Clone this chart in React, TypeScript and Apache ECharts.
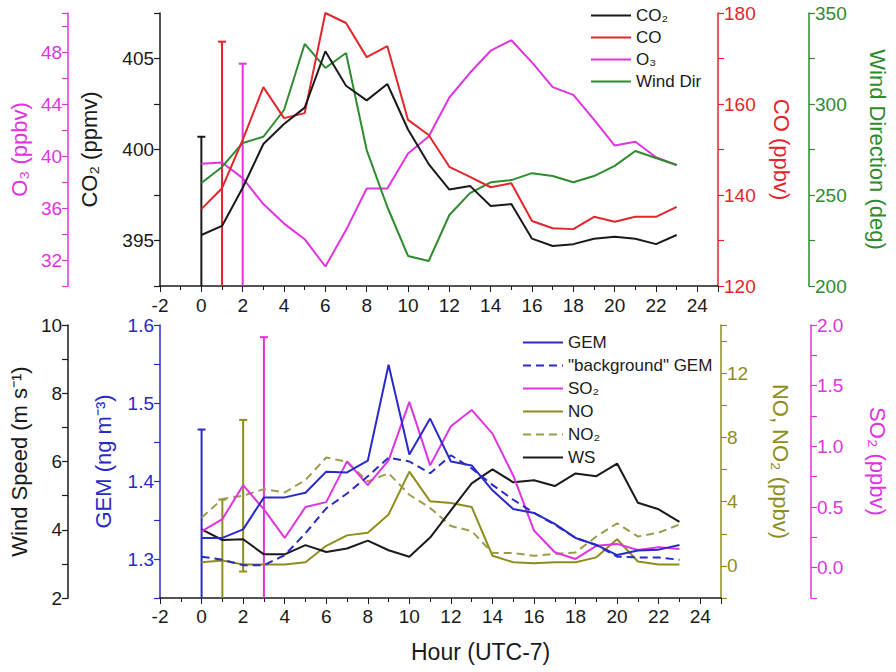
import React, { useEffect, useRef } from "react";
import * as echarts from "echarts";

const hours = [0, 1, 2, 3, 4, 5, 6, 7, 8, 9, 10, 11, 12, 13, 14, 15, 16, 17, 18, 19, 20, 21, 22, 23];
const xTicks = [-2, 0, 2, 4, 6, 8, 10, 12, 14, 16, 18, 20, 22, 24];

// top panel
const co2 = [395.3, 395.8, 397.9, 400.3, 401.4, 402.3, 405.4, 403.5, 402.7, 403.6, 401.1, 399.2, 397.8, 398.0, 396.9, 397.0, 395.1, 394.7, 394.8, 395.1, 395.2, 395.1, 394.8, 395.3];
const co = [136.9, 141.5, 152.1, 163.7, 156.9, 158.0, 180.0, 177.8, 170.3, 172.7, 156.5, 153.2, 146.2, 144.0, 141.7, 142.6, 134.3, 132.7, 132.5, 135.2, 134.1, 135.2, 135.2, 137.4];
const o3 = [39.4, 39.5, 38.3, 36.3, 34.8, 33.6, 31.5, 34.3, 37.5, 37.5, 40.2, 41.5, 44.5, 46.4, 48.1, 48.9, 47.2, 45.3, 44.7, 42.8, 40.8, 41.1, 39.9, 39.3];
const windDir = [256.6, 265.4, 278.6, 282.0, 296.7, 333.0, 319.8, 328.0, 274.7, 243.4, 216.5, 213.7, 239.0, 251.0, 257.0, 258.2, 262.0, 260.4, 257.0, 260.4, 266.0, 274.2, 270.3, 266.5];

// bottom panel
const gem = [1.327, 1.327, 1.338, 1.379, 1.379, 1.385, 1.412, 1.411, 1.426, 1.549, 1.434, 1.48, 1.425, 1.42, 1.388, 1.364, 1.359, 1.345, 1.327, 1.318, 1.305, 1.311, 1.312, 1.318];
const bgGem = [1.303, 1.299, 1.292, 1.292, 1.305, 1.333, 1.365, 1.384, 1.406, 1.43, 1.425, 1.41, 1.433, 1.416, 1.395, 1.376, 1.359, 1.344, 1.327, 1.318, 1.303, 1.302, 1.302, 1.299];
const so2 = [0.3, 0.4, 0.68, 0.48, 0.245, 0.5, 0.54, 0.876, 0.68, 0.884, 1.366, 0.843, 1.165, 1.3, 1.105, 0.76, 0.306, 0.127, 0.072, 0.18, 0.196, 0.146, 0.168, 0.154];
const no = [0.23, 0.33, 0.08, 0.08, 0.08, 0.23, 1.25, 1.9, 2.07, 3.2, 5.87, 4.02, 3.92, 3.67, 0.63, 0.23, 0.16, 0.23, 0.23, 0.53, 1.66, 0.27, 0.08, 0.08];
const no2 = [3.0, 4.17, 4.37, 4.78, 4.57, 5.35, 6.75, 6.48, 5.25, 5.77, 4.43, 3.61, 2.48, 2.17, 0.8, 0.8, 0.63, 0.74, 0.84, 1.83, 2.65, 1.83, 2.07, 2.58];
const ws = [4.01, 3.7, 3.72, 3.28, 3.28, 3.55, 3.35, 3.45, 3.68, 3.4, 3.21, 3.77, 4.57, 5.36, 5.77, 5.39, 5.45, 5.28, 5.65, 5.57, 5.94, 4.79, 4.6, 4.23];

// error bars: [hour, centre, half-width]
const co2Err = [0, 395.3, 5.4];
const coErr = [1, 141.5, 32.2];
const o3Err = [2, 38.3, 8.8];
const gemErr = [0, 1.327, 0.139];
const noErr = [1, 0.33, 3.8];
const no2Err = [2, 4.37, 4.72];
const so2Err = [3, 0.48, 1.42];

const FONT = "Liberation Sans, Arial, Helvetica, sans-serif";
const BLACK = "#1a1a1a";
const RED = "#e3262c";
const MAGENTA = "#e034e0";
const GREEN = "#2e8b2e";
const BLUE = "#2a2ac8";
const OLIVE = "#8e8e1e";
const OLIVE2 = "#9c9c4a";

const pair = (arr: number[]) => hours.map((h, i) => [h, arr[i]]);

function yAxis(opts: any) {
  const { color, grid, pos, offset, min, max, interval, fmt, name, gap } = opts;
  return {
    type: "value",
    gridIndex: grid,
    position: pos,
    offset,
    min,
    max,
    interval,
    name,
    nameLocation: "middle",
    nameRotate: pos === "left" ? 90 : -90,
    nameGap: gap,
    nameTextStyle: { color, fontSize: 22, fontFamily: FONT },
    axisLine: { show: true, onZero: false, lineStyle: { color, width: 1.5 } },
    axisTick: { show: true, length: 6, lineStyle: { color, width: 1.2 } },
    axisLabel: { color, fontSize: 19, fontFamily: FONT, margin: 6, formatter: fmt, showMinLabel: true, showMaxLabel: true },
    splitLine: { show: false },
  };
}

function errSeries(name: string, err: number[], color: string, xi: number, yi: number) {
  return {
    type: "custom",
    name,
    xAxisIndex: xi,
    yAxisIndex: yi,
    data: [err],
    encode: { x: 0, y: 1 },
    z: 1,
    renderItem: (params: any, api: any) => {
      const x = api.value(0);
      const c = api.value(1);
      const e = api.value(2);
      const top = api.coord([x, c + e]);
      const bot = api.coord([x, c - e]);
      const cs = params.coordSys;
      const y0 = Math.max(top[1], cs.y);
      const y1 = Math.min(bot[1], cs.y + cs.height);
      const st = { stroke: color, lineWidth: 2 };
      const children: any[] = [
        { type: "line", shape: { x1: top[0], y1: y0, x2: top[0], y2: y1 }, style: st },
      ];
      if (top[1] >= cs.y) children.push({ type: "line", shape: { x1: top[0] - 4, y1: top[1], x2: top[0] + 4, y2: top[1] }, style: st });
      if (bot[1] <= cs.y + cs.height) children.push({ type: "line", shape: { x1: bot[0] - 4, y1: bot[1], x2: bot[0] + 4, y2: bot[1] }, style: st });
      return { type: "group", children };
    },
  };
}

function lineSeries(name: string, arr: number[], color: string, xi: number, yi: number, dashed = false) {
  return {
    type: "line",
    name,
    xAxisIndex: xi,
    yAxisIndex: yi,
    data: pair(arr),
    symbol: "none",
    color,
    lineStyle: { color, width: 2, type: dashed ? [8, 5] : "solid" },
    z: 3,
  };
}

const xFmt = (v: number) => (xTicks.indexOf(v) >= 0 ? String(v) : "");

function xAxis(grid: number) {
  return {
    type: "value",
    gridIndex: grid,
    min: -2,
    max: 25,
    interval: 2,
    axisLine: { show: true, onZero: false, lineStyle: { color: BLACK, width: 1.5 } },
    axisTick: { show: true, length: 6, lineStyle: { color: BLACK } },
    minorTick: { show: true, splitNumber: 2, length: 4, lineStyle: { color: BLACK } },
    axisLabel: { color: BLACK, fontSize: 19, fontFamily: FONT, margin: grid === 0 ? 10 : 9, formatter: xFmt },
    splitLine: { show: false },
    minorSplitLine: { show: false },
  };
}

const near = (v: number, step: number) => Math.abs(v / step - Math.round(v / step)) < 1e-6;

const legendCommon = {
  orient: "vertical",
  itemWidth: 40,
  itemHeight: 14,
  itemStyle: { opacity: 0, borderWidth: 0 },
  textStyle: { fontSize: 17, color: BLACK, fontFamily: FONT },
};

export default function App() {
  const ref = useRef<HTMLDivElement>(null);
  useEffect(() => {
    if (!ref.current) return;
    const chart = echarts.init(ref.current, undefined, { renderer: "svg" });
    const option: any = {
      animation: false,
      backgroundColor: "#ffffff",
      textStyle: { fontFamily: FONT },
      grid: [
        { left: 155, top: 13, width: 571, height: 273 },
        { left: 155, top: 325, width: 570, height: 273 },
      ],
      xAxis: [xAxis(0), xAxis(1)],
      yAxis: [
        yAxis({ color: BLACK, grid: 0, pos: "left", offset: 0, min: 392.5, max: 407.5, interval: 2.5, fmt: (v: number) => (near(v, 5) ? String(Math.round(v)) : ""), name: "CO₂ (ppmv)", gap: 60 }),
        yAxis({ color: MAGENTA, grid: 0, pos: "left", offset: 92, min: 30, max: 51, interval: 2, fmt: (v: number) => (near(v, 4) ? String(v) : ""), name: "O₃ (ppbv)", gap: 37 }),
        yAxis({ color: RED, grid: 0, pos: "right", offset: 0, min: 120, max: 180, interval: 10, fmt: (v: number) => (near(v, 20) ? String(v) : ""), name: "CO (ppbv)", gap: 52 }),
        yAxis({ color: GREEN, grid: 0, pos: "right", offset: 91, min: 200, max: 350, interval: 25, fmt: (v: number) => (near(v, 50) ? String(v) : ""), name: "Wind Direction (deg)", gap: 57 }),
        yAxis({ color: BLUE, grid: 1, pos: "left", offset: 0, min: 1.25, max: 1.6, interval: 0.05, fmt: (v: number) => (near(v, 0.1) ? v.toFixed(1) : ""), name: "GEM (ng m⁻³)", gap: 46 }),
        yAxis({ color: BLACK, grid: 1, pos: "left", offset: 92, min: 2, max: 10, interval: 1, fmt: (v: number) => (near(v, 2) ? String(v) : ""), name: "Wind Speed (m s⁻¹)", gap: 32 }),
        yAxis({ color: OLIVE, grid: 1, pos: "right", offset: 0, min: -2, max: 15, interval: 2, fmt: (v: number) => (v >= 0 && near(v, 4) ? String(v) : ""), name: "NO, NO₂ (ppbv)", gap: 48 }),
        yAxis({ color: MAGENTA, grid: 1, pos: "right", offset: 90, min: -0.25, max: 2.0, interval: 0.25, fmt: (v: number) => (near(v, 0.5) ? v.toFixed(1) : ""), name: "SO₂ (ppbv)", gap: 55 }),
      ],
      legend: [
        {
          ...legendCommon,
          data: ["CO₂", "CO", "O₃", "Wind Dir"],
          left: 585,
          top: 2,
          itemGap: 5,
        },
        {
          ...legendCommon,
          data: ["GEM", '"background" GEM', "SO₂", "NO", "NO₂", "WS"],
          left: 517,
          top: 329,
          itemGap: 6,
        },
      ],
      graphic: [
        {
          type: "text",
          left: 411,
          top: 640,
          style: { text: "Hour (UTC-7)", fontSize: 23, fontFamily: FONT, fill: BLACK },
        },
      ],
      series: [
        lineSeries("O₃", o3, MAGENTA, 0, 1),
        lineSeries("Wind Dir", windDir, GREEN, 0, 3),
        lineSeries("CO", co, RED, 0, 2),
        lineSeries("CO₂", co2, BLACK, 0, 0),
        errSeries("eCO2", co2Err, BLACK, 0, 0),
        errSeries("eCO", coErr, RED, 0, 2),
        errSeries("eO3", o3Err, MAGENTA, 0, 1),
        lineSeries("NO", no, OLIVE, 1, 6),
        lineSeries("NO₂", no2, OLIVE2, 1, 6, true),
        lineSeries("WS", ws, BLACK, 1, 5),
        lineSeries("SO₂", so2, MAGENTA, 1, 7),
        lineSeries('"background" GEM', bgGem, BLUE, 1, 4, true),
        lineSeries("GEM", gem, BLUE, 1, 4),
        errSeries("eGEM", gemErr, BLUE, 1, 4),
        errSeries("eNO", noErr, OLIVE, 1, 6),
        errSeries("eNO2", no2Err, OLIVE, 1, 6),
        errSeries("eSO2", so2Err, MAGENTA, 1, 7),
      ],
    };
    chart.setOption(option);
    return () => chart.dispose();
  }, []);
  return <div ref={ref} style={{ position: "fixed", left: 0, top: 0, width: 896, height: 672, background: "#fff" }} />;
}
